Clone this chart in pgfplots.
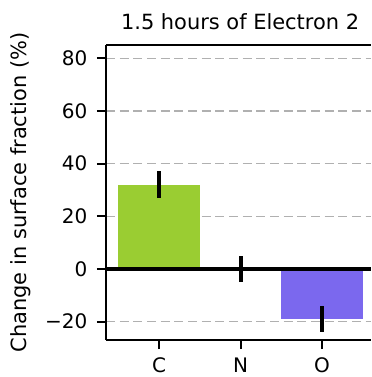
\documentclass[border=0pt]{standalone}
\usepackage{fontspec}
\setmainfont{DejaVu Sans}
\usepackage{pgfplots}
\pgfplotsset{compat=1.18}
\definecolor{cC}{HTML}{9ACD32}
\definecolor{cO}{HTML}{7B68EE}
\definecolor{gridc}{HTML}{B0B0B0}
\begin{document}
\begin{tikzpicture}
\begin{axis}[
  name=ax,
  scale only axis,
  width=198.75pt, height=221.25pt,
  xmin=-0.65, xmax=2.6,
  ymin=-27, ymax=85,
  axis x line*=box, axis y line*=left,
  axis line style={line width=1.5pt},
  xtick={0,1,2}, xticklabels={C,N,O},
  ytick={-20,0,20,40,60,80},
  yticklabels={−20,0,20,40,60,80},
  xtick pos=bottom, ytick pos=left,
  tick align=outside,
  major tick length=6.75pt,
  every tick/.style={black, line width=1.5pt},
  ymajorgrids,
  grid style={gridc, line width=1pt, dash pattern=on 6.75pt off 3.5pt},
  tick label style={font=\fontsize{15}{17}\selectfont},
  /pgf/number format/assume math mode=true,
  yticklabel style={anchor=east, inner sep=0pt, xshift=-7pt},
  xticklabel style={anchor=base, inner sep=0pt, yshift=-17.4pt},
  every axis title/.style={at={(axis description cs:0.506,1)}, anchor=base, yshift=11.25pt, font=\fontsize{15.7}{18}\selectfont},
  title={1.5 hours of Electron 2},
  every axis y label/.style={at={(axis description cs:-0.3208,0.5)}, rotate=90, anchor=center, font=\fontsize{15.7}{18}\selectfont},
  ylabel={Change in surface fraction (\%)},
]
\addplot[ybar, bar width=1, bar shift=0pt, fill=cC, draw=none,
  error bars/.cd, y dir=both, y explicit,
  error bar style={black, line width=3pt}, error mark=none]
  coordinates {(0,32) +- (0,5)};
\addplot[ybar, bar width=1, bar shift=0pt, fill=cO, draw=none,
  error bars/.cd, y dir=both, y explicit,
  error bar style={black, line width=3pt}, error mark=none]
  coordinates {(2,-19) +- (0,5)};
\addplot[black, line width=2.5pt, mark=none] coordinates {(-0.65,0) (2.6,0)};
\addplot[draw=none, mark=none,
  error bars/.cd, y dir=both, y explicit,
  error bar style={black, line width=3pt}, error mark=none]
  coordinates {(1,0) +- (0,5)};
\end{axis}
\pgfresetboundingbox
\path[use as bounding box] ([xshift=-79.5pt,yshift=-27.75pt]ax.south west) rectangle ([yshift=33.75pt]ax.north east);
\end{tikzpicture}
\end{document}
